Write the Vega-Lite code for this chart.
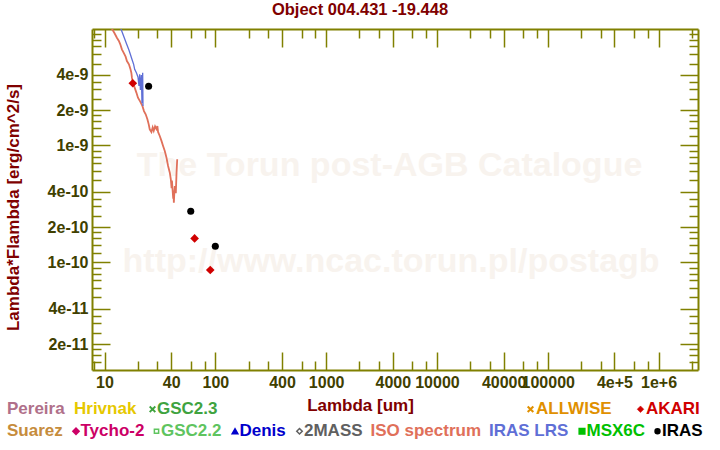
{
 "$schema": "https://vega.github.io/schema/vega-lite/v6.json",
 "width": 606, "height": 341,
 "autosize": {"type": "none"},
 "padding": {"left": 92, "top": 29, "right": 22, "bottom": 80},
 "background": "white",
 "title": {"text": "Object 004.431 -19.448", "color": "#800000", "font": "Liberation Sans", "fontWeight": "bold", "fontSize": 16.5, "frame": "group", "anchor": "middle", "dx": -35, "dy": 17, "offset": 11, "baseline": "alphabetic"},
 "datasets": {
  "wm": [
   {"label": "The Torun post-AGB Catalogue", "lam": 3733, "F": 5.46e-10},
   {"label": "http://www.ncac.torun.pl/postagb", "lam": 3855, "F": 8.26e-11}
  ],
  "iso": [
   {"lam":11.6,"F":1.0e-8},{"lam":12.32,"F":9.06e-9},{"lam":12.93,"F":8.31e-9},{"lam":13.48,"F":7.79e-9},{"lam":13.88,"F":7.30e-9},{"lam":14.35,"F":6.61e-9},{"lam":14.87,"F":6.19e-9},{"lam":15.50,"F":5.72e-9},{"lam":15.93,"F":5.25e-9},{"lam":16.61,"F":4.92e-9},{"lam":17.10,"F":4.52e-9},{"lam":17.46,"F":4.17e-9},{"lam":17.68,"F":3.78e-9},{"lam":18.05,"F":3.43e-9},{"lam":18.71,"F":3.11e-9},{"lam":19.39,"F":2.82e-9},{"lam":20.04,"F":2.55e-9},{"lam":21.07,"F":2.35e-9},{"lam":21.97,"F":2.17e-9},{"lam":22.71,"F":1.96e-9},{"lam":23.53,"F":1.84e-9},{"lam":24.38,"F":1.67e-9},{"lam":25.06,"F":1.51e-9},{"lam":25.59,"F":1.37e-9},{"lam":26.51,"F":1.30e-9},{"lam":27.2,"F":1.42e-9},{"lam":27.81,"F":1.33e-9},{"lam":28.6,"F":1.45e-9},{"lam":29.42,"F":1.38e-9},{"lam":30.0,"F":1.46e-9},{"lam":30.42,"F":1.30e-9},{"lam":31.52,"F":1.20e-9},{"lam":32.66,"F":1.09e-9},{"lam":33.78,"F":9.86e-10},{"lam":34.99,"F":8.94e-10},{"lam":36.25,"F":7.83e-10},{"lam":37.48,"F":6.65e-10},{"lam":38.84,"F":5.83e-10},{"lam":39.67,"F":5.12e-10},{"lam":40.3,"F":4.3e-10},{"lam":40.6,"F":5.0e-10},{"lam":41.10,"F":4.21e-10},{"lam":41.7,"F":3.5e-10},{"lam":42.0,"F":4.0e-10},{"lam":42.23,"F":3.23e-10},{"lam":42.6,"F":3.8e-10},{"lam":43.11,"F":4.49e-10},{"lam":44.0,"F":3.9e-10},{"lam":44.67,"F":5.83e-10},{"lam":45.3,"F":7.6e-10}
  ],
  "lrs": [
   {"lam":14.0,"F":1.0e-8},{"lam":14.87,"F":8.59e-9},{"lam":15.73,"F":7.44e-9},{"lam":16.61,"F":6.52e-9},{"lam":17.10,"F":5.99e-9},{"lam":17.68,"F":5.43e-9},{"lam":18.32,"F":4.92e-9},{"lam":18.71,"F":4.46e-9},{"lam":19.39,"F":4.17e-9},{"lam":20.04,"F":3.84e-9},{"lam":20.47,"F":3.21e-9},{"lam":20.77,"F":4.04e-9},{"lam":21.07,"F":2.97e-9},{"lam":21.51,"F":3.99e-9},{"lam":21.78,"F":2.30e-9},{"lam":22.10,"F":4.17e-9},{"lam":22.24,"F":2.17e-9}
  ],
  "phot": [
   {"src":"IRAS","lam":25,"F":3.19e-9},{"src":"IRAS","lam":60,"F":2.73e-10},{"src":"IRAS","lam":100,"F":1.37e-10},
   {"src":"AKARI","lam":18,"F":3.39e-9},{"src":"AKARI","lam":65,"F":1.60e-10},{"src":"AKARI","lam":90,"F":8.59e-11}
  ]
 },
 "encoding": {
  "x": {"field": "lam", "type": "quantitative", "scale": {"type": "log", "domain": [7.71, 2270000], "nice": false}, "axis": null},
  "y": {"field": "F", "type": "quantitative", "scale": {"type": "log", "domain": [1.2e-11, 9.86e-9], "nice": false}, "axis": null}
 },
 "layer": [
  {
   "data": {"name": "wm"},
   "mark": {"type": "text", "font": "Liberation Sans", "fontWeight": "bold", "fontSize": 34, "align": "center", "baseline": "alphabetic", "color": "#f8f3ee"},
   "encoding": {
    "x": {"field": "lam", "type": "quantitative", "scale": {"type": "log", "domain": [7.71, 2270000], "nice": false},
     "axis": {"orient": "bottom",
      "values": [8,10,20,30,40,60,80,100,200,300,400,600,800,1000,2000,3000,4000,6000,8000,10000,20000,30000,40000,60000,80000,100000,200000,300000,400000,600000,800000,1000000,2000000],
      "labelExpr": "indexof([10,40,100,400,1000,4000,10000,40000,100000], datum.value) >= 0 ? '' + datum.value : datum.value == 400000 ? '4e+5' : datum.value == 1000000 ? '1e+6' : ''",
      "tickSize": {"condition": {"test": "indexof([10,40,100,400,1000,4000,10000,40000,100000,400000,1000000], datum.value) >= 0", "value": -18}, "value": -9},
      "labelPadding": 22,
      "title": "Lambda [um]", "titleX": 268, "titleY": 40, "titleBaseline": "alphabetic"}},
    "y": {"field": "F", "type": "quantitative", "scale": {"type": "log", "domain": [1.2e-11, 9.86e-9], "nice": false},
     "axis": {"orient": "left",
      "values": [1.4e-11,1.6e-11,1.8e-11,2e-11,2.5e-11,3e-11,3.5e-11,4e-11,5e-11,6e-11,7e-11,8e-11,9e-11,1e-10,1.2e-10,1.4e-10,1.6e-10,1.8e-10,2e-10,2.5e-10,3e-10,3.5e-10,4e-10,5e-10,6e-10,7e-10,8e-10,9e-10,1e-9,1.2e-9,1.4e-9,1.6e-9,1.8e-9,2e-9,2.5e-9,3e-9,3.5e-9,4e-9,5e-9,6e-9,7e-9,8e-9,9e-9],
      "labelExpr": "indexof([2e-11,4e-11,1e-10,2e-10,4e-10,1e-9,2e-9,4e-9], datum.value) >= 0 ? '' + datum.value : ''",
      "tickSize": {"condition": {"test": "indexof([2e-11,4e-11,1e-10,2e-10,4e-10,1e-9,2e-9,4e-9], datum.value) >= 0", "value": -18}, "value": -9},
      "labelPadding": 22,
      "title": "Lambda*Flambda [erg/cm^2/s]", "titleX": -74, "titleY": 178, "titleAngle": -90, "titleAlign": "center", "titleBaseline": "alphabetic"}},
    "text": {"field": "label"}
   }
  },
  {
   "data": {"name": "iso"},
   "mark": {"type": "line", "strokeWidth": 1.8, "clip": true, "color": "#e0705a"},
   "encoding": {
    "x": {"field": "lam", "type": "quantitative", "scale": {"type": "log", "domain": [7.71, 2270000], "nice": false},
     "axis": {"orient": "top", "labels": false, "title": null,
      "values": [8,10,20,30,40,60,80,100,200,300,400,600,800,1000,2000,3000,4000,6000,8000,10000,20000,30000,40000,60000,80000,100000,200000,300000,400000,600000,800000,1000000,2000000],
      "tickSize": {"condition": {"test": "indexof([10,40,100,400,1000,4000,10000,40000,100000,400000,1000000], datum.value) >= 0", "value": -18}, "value": -9}}},
    "y": {"field": "F", "type": "quantitative", "scale": {"type": "log", "domain": [1.2e-11, 9.86e-9], "nice": false},
     "axis": {"orient": "right", "labels": false, "title": null,
      "values": [1.4e-11,1.6e-11,1.8e-11,2e-11,2.5e-11,3e-11,3.5e-11,4e-11,5e-11,6e-11,7e-11,8e-11,9e-11,1e-10,1.2e-10,1.4e-10,1.6e-10,1.8e-10,2e-10,2.5e-10,3e-10,3.5e-10,4e-10,5e-10,6e-10,7e-10,8e-10,9e-10,1e-9,1.2e-9,1.4e-9,1.6e-9,1.8e-9,2e-9,2.5e-9,3e-9,3.5e-9,4e-9,5e-9,6e-9,7e-9,8e-9,9e-9],
      "tickSize": {"condition": {"test": "indexof([2e-11,4e-11,1e-10,2e-10,4e-10,1e-9,2e-9,4e-9], datum.value) >= 0", "value": -18}, "value": -9}}}
   }
  },
  {
   "data": {"name": "lrs"},
   "mark": {"type": "line", "strokeWidth": 1.3, "clip": true, "color": "#5f6fd6"},
   "encoding": {}
  },
  {
   "data": {"name": "phot"},
   "transform": [{"filter": "datum.src == 'IRAS'"}],
   "mark": {"type": "point", "filled": true, "opacity": 1, "size": 50},
   "encoding": {
    "fill": {"field": "src", "type": "nominal",
     "scale": {"domain": ["Suarez","Tycho-2","GSC2.2","Denis","2MASS","ISO spectrum","IRAS LRS","MSX6C","IRAS"],
      "range": ["transparent","#cc0066","transparent","#0000cc","transparent","transparent","transparent","#00c000","#000000"]},
     "legend": {"title": null, "orient": "none", "legendX": -82, "legendY": 393.5, "direction": "horizontal", "columnPadding": 6.5, "labelFont": "Liberation Sans", "labelFontWeight": "bold", "labelFontSize": 17, "labelLimit": 400,
      "symbolType": {"expr": "((datum.value == 'Tycho-2' || datum.value == '2MASS') ? 'diamond' : (datum.value == 'GSC2.2' || datum.value == 'MSX6C') ? 'square' : datum.value == 'Denis' ? 'triangle-up' : 'circle')"},
      "symbolStrokeColor": {"expr": "(datum.value == 'Tycho-2' ? '#cc0066' : datum.value == 'GSC2.2' ? '#5fc45f' : datum.value == 'Denis' ? '#0000cc' : datum.value == '2MASS' ? '#606060' : datum.value == 'MSX6C' ? '#00c000' : datum.value == 'IRAS' ? '#000000' : 'transparent')"},
      "symbolStrokeWidth": 1.5,
      "symbolSize": {"expr": "(datum.value == 'GSC2.2' ? 18 : datum.value == 'IRAS' ? 24 : datum.value == '2MASS' ? 30 : datum.value == 'Tycho-2' ? 40 : 32)"},
      "symbolOffset": -6,
      "labelOffset": {"expr": "(indexof(['Suarez','ISO spectrum','IRAS LRS'], datum.value) >= 0 ? -14 : -4)"},
      "labelColor": {"expr": "(datum.value == 'Suarez' ? '#c68c3c' : datum.value == 'Tycho-2' ? '#cc0066' : datum.value == 'GSC2.2' ? '#5fc45f' : datum.value == 'Denis' ? '#0000cc' : datum.value == '2MASS' ? '#606060' : datum.value == 'ISO spectrum' ? '#e0705a' : datum.value == 'IRAS LRS' ? '#5f6fd6' : datum.value == 'MSX6C' ? '#00c000' : '#000000')"}
     }}
   }
  },
  {
   "data": {"name": "phot"},
   "transform": [{"filter": "datum.src == 'AKARI'"}],
   "mark": {"type": "point", "filled": true, "opacity": 1, "size": 75},
   "encoding": {
    "color": {"field": "src", "type": "nominal", "scale": {"domain": ["AKARI"], "range": ["#d00000"]}, "legend": null},
    "strokeDash": {"datum": "Pereira", "type": "nominal",
     "scale": {"domain": ["Pereira","Hrivnak","GSC2.3"], "range": [[1,0],[1,0],[1,0]]},
     "legend": {"title": null, "orient": "none", "legendX": -82, "legendY": 371.5, "direction": "horizontal", "columnPadding": 8, "labelFont": "Liberation Sans", "labelFontWeight": "bold", "labelFontSize": 17, "labelLimit": 400,
      "symbolType": {"expr": "(datum.value == 'GSC2.3' ? 'M-1,-1L1,1M-1,1L1,-1' : 'circle')"},
      "symbolFillColor": "transparent",
      "symbolStrokeColor": {"expr": "(datum.value == 'GSC2.3' ? '#3fa33f' : 'transparent')"},
      "symbolStrokeWidth": 2,
      "symbolSize": {"expr": "(datum.value == 'GSC2.3' ? 32 : 10)"},
      "symbolOffset": -6,
      "labelOffset": {"expr": "(datum.value == 'GSC2.3' ? -4 : -14)"},
      "labelColor": {"expr": "(datum.value == 'Pereira' ? '#b0708a' : datum.value == 'Hrivnak' ? '#e6c800' : '#3fa33f')"}
     }},
    "shape": {"field": "src", "type": "nominal",
     "scale": {"domain": ["ALLWISE","AKARI"], "range": ["M-1,-1L1,1M-1,1L1,-1","diamond"]},
     "legend": {"title": null, "orient": "none", "legendX": 436, "legendY": 371.5, "direction": "horizontal", "columnPadding": 24, "labelFont": "Liberation Sans", "labelFontWeight": "bold", "labelFontSize": 17, "labelLimit": 400,
      "symbolFillColor": {"expr": "(datum.value == 'AKARI' ? '#d00000' : 'transparent')"},
      "symbolStrokeColor": {"expr": "(datum.value == 'ALLWISE' ? '#e09000' : '#d00000')"},
      "symbolStrokeWidth": {"expr": "(datum.value == 'AKARI' ? 0.5 : 2)"},
      "symbolSize": {"expr": "(datum.value == 'AKARI' ? 44 : 32)"},
      "symbolOffset": -6,
      "labelOffset": -3,
      "labelColor": {"expr": "(datum.value == 'ALLWISE' ? '#e09000' : '#d00000')"}
     }}
   }
  }
 ],
 "config": {
  "view": {"stroke": null},
  "axis": {"grid": false, "domainColor": "#808000", "domainWidth": 2, "tickColor": "#808000", "tickWidth": 1.5, "labelFont": "Liberation Sans", "labelFontWeight": "bold", "labelFontSize": 16, "labelColor": "#404000", "titleFont": "Liberation Sans", "titleFontWeight": "bold", "titleFontSize": 17, "titleColor": "#800000", "labelOverlap": false, "labelFlush": false, "labelBound": false}
 }
}
